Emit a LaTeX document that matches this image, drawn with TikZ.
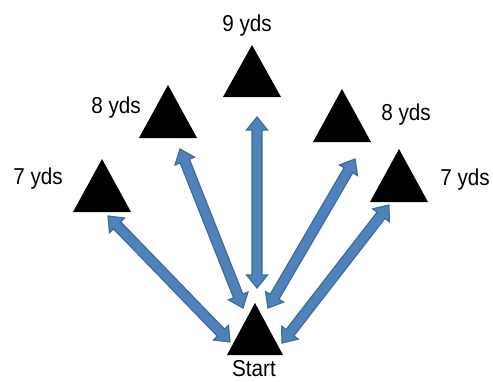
\documentclass[tikz,border=0pt]{standalone}
\usepackage{fontspec}
\setmainfont[FakeStretch=0.9]{Liberation Sans}
\usetikzlibrary{calc}
\definecolor{afill}{RGB}{79,129,189}
\definecolor{aline}{RGB}{62,108,152}
\newcommand\mytri[4]{\fill[black] (#1-#4,#3) -- (#1,#2) -- (#1+#4,#3) -- cycle;}
\tikzset{
  lbl/.style={font=\fontsize{23}{27}\selectfont, inner sep=0pt, anchor=base},
  barrow/.style={draw=aline, fill=afill, line width=1.2pt, line join=miter,
    to path={let \p1=(\tikztostart), \p2=(\tikztotarget),
      \n1={atan2(\y2-\y1,\x2-\x1)} in
      -- ($(\p1)+(\n1:13pt)+(\n1+90:10.5pt)$)
      -- ($(\p1)+(\n1:13pt)+(\n1+90:5pt)$)
      -- ($(\p2)+(\n1+180:13pt)+(\n1+90:5pt)$)
      -- ($(\p2)+(\n1+180:13pt)+(\n1+90:10.5pt)$)
      -- (\p2)
      -- ($(\p2)+(\n1+180:13pt)+(\n1-90:10.5pt)$)
      -- ($(\p2)+(\n1+180:13pt)+(\n1-90:5pt)$)
      -- ($(\p1)+(\n1:13pt)+(\n1-90:5pt)$)
      -- ($(\p1)+(\n1:13pt)+(\n1-90:10.5pt)$)
      -- cycle}}
}
\begin{document}
\begin{tikzpicture}[x=1pt,y=-1pt]
\useasboundingbox (0,0) rectangle (493,381);
% triangles
\mytri{255}{303}{355}{28}
\mytri{102}{159}{212}{29}
\mytri{168}{85}{138}{29}
\mytri{252}{45}{97}{29}
\mytri{342}{89}{142}{29}
\mytri{399}{149}{202}{29}
% labels
\node[lbl] (l9) at (247,31) {9 yds};
\node[lbl] (l8a) at (116,113) {8 yds};
\node[lbl] (l8b) at (406,120) {8 yds};
\node[lbl] (l7a) at (38,184) {7 yds};
\node[lbl] (l7b) at (465,185) {7 yds};
\node[lbl] (ls) at (254,376) {Start};
% arrow ends
\coordinate (v1) at (257,117);  \coordinate (v2) at (257,288);
\coordinate (a1) at (180,149);  \coordinate (a2) at (243,308);
\coordinate (b1) at (355,159);  \coordinate (b2) at (268,308);
\coordinate (c1) at (108,216);  \coordinate (c2) at (230,342);
\coordinate (d1) at (389,205);  \coordinate (d2) at (282,343);
\path[barrow] (v1) to (v2);
\path[barrow] (a1) to (a2);
\path[barrow] (b1) to (b2);
\path[barrow] (c1) to (c2);
\path[barrow] (d1) to (d2);
\end{tikzpicture}
\end{document}
